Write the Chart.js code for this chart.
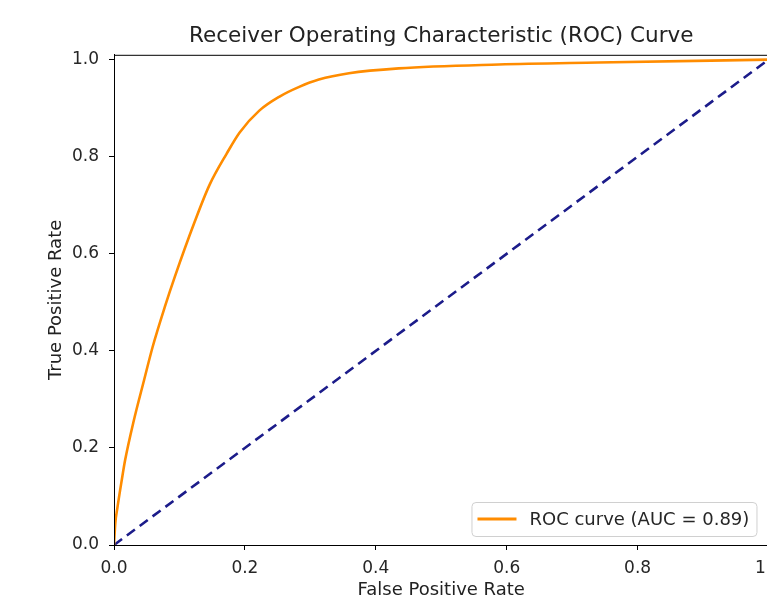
<!DOCTYPE html>
<html>
<head>
<meta charset="utf-8">
<script src="https://cdn.jsdelivr.net/npm/chart.js@4.4.1/dist/chart.umd.min.js"></script>
<style>
  html, body { margin: 0; padding: 0; background: #fff; overflow: hidden; }
  #wrap { width: 790px; height: 598px; }
</style>
</head>
<body>
<div id="wrap"><canvas id="roc" width="790" height="598"></canvas></div>
<script>
// datos
const fpr = [0, 0.002, 0.005, 0.012, 0.017, 0.03, 0.046, 0.059, 0.078, 0.093, 0.123, 0.146, 0.172, 0.192, 0.222, 0.253, 0.283, 0.313, 0.359, 0.435, 0.588, 0.74, 1.0];
const tpr = [0, 0.045, 0.075, 0.135, 0.175, 0.255, 0.34, 0.408, 0.492, 0.553, 0.665, 0.742, 0.806, 0.85, 0.895, 0.924, 0.944, 0.959, 0.972, 0.982, 0.99, 0.994, 1.0];
const diagX = [0, 1];
const diagY = [0, 1];
const xTicks = [0, 0.2, 0.4, 0.6, 0.8, 1.0];
const yTicks = [0, 0.2, 0.4, 0.6, 0.8, 1.0];
const rocLabel = 'ROC curve (AUC = 0.89)';

const FONT = 'DejaVu Sans';
const ctx = document.getElementById('roc');

// marco completo alrededor del area del grafico
const frame = {
  id: 'frame',
  afterDraw(chart) {
    const {ctx, chartArea: a} = chart;
    ctx.save();
    ctx.strokeStyle = '#000';
    ctx.lineWidth = 1;
    ctx.strokeRect(a.left + 0.5, a.top + 0.5, a.right - a.left, a.bottom - a.top);
    ctx.restore();
  }
};

// leyenda dentro del grafico, abajo a la derecha
const innerLegend = {
  id: 'innerLegend',
  afterDraw(chart) {
    const {ctx, chartArea: a} = chart;
    const w = 285, h = 34;
    const x = a.right - 12 - w, y = a.bottom - 9 - h;
    ctx.save();
    ctx.fillStyle = 'rgba(255,255,255,0.8)';
    ctx.strokeStyle = '#d0d0d0';
    ctx.lineWidth = 1;
    ctx.beginPath();
    ctx.roundRect(x + 0.5, y + 0.5, w, h, 4);
    ctx.fill();
    ctx.stroke();
    ctx.strokeStyle = '#ff8c00';
    ctx.lineWidth = 3;
    ctx.beginPath();
    ctx.moveTo(x + 6, y + h / 2);
    ctx.lineTo(x + 45, y + h / 2);
    ctx.stroke();
    ctx.fillStyle = '#262626';
    ctx.font = '18px "' + FONT + '"';
    ctx.textBaseline = 'middle';
    ctx.fillText(rocLabel, x + 58, y + h / 2 + 1);
    ctx.restore();
  }
};

new Chart(ctx, {
  type: 'line',
  data: {
    datasets: [
      {
        label: rocLabel,
        data: fpr.map((v, i) => ({x: v, y: tpr[i]})),
        borderColor: '#ff8c00',
        borderWidth: 2.6,
        pointRadius: 0,
        cubicInterpolationMode: 'monotone',
        fill: false
      },
      {
        label: 'diagonal',
        data: diagX.map((v, i) => ({x: v, y: diagY[i]})),
        borderColor: '#1c1c8a',
        borderWidth: 2.6,
        borderDash: [10, 6],
        pointRadius: 0,
        fill: false
      }
    ]
  },
  options: {
    responsive: false,
    animation: false,
    layout: { padding: { right: 19 } },
    plugins: {
      legend: { display: false },
      tooltip: { enabled: false },
      title: {
        display: true,
        text: 'Receiver Operating Characteristic (ROC) Curve',
        fullSize: false,
        color: '#222',
        font: { family: FONT, size: 21.5, weight: 'normal' },
        padding: { top: 24, bottom: 5 }
      }
    },
    scales: {
      x: {
        type: 'linear',
        min: 0,
        max: 1,
        afterBuildTicks: s => { s.ticks = xTicks.map(v => ({value: v})); },
        afterFit: s => { s.height = 53; },
        grid: { drawOnChartArea: false, color: '#000', tickLength: 5, tickWidth: 1 },
        border: { color: '#000', width: 1 },
        ticks: {
          color: '#262626',
          font: { family: FONT, size: 17 },
          padding: 8,
          maxRotation: 0,
          callback: v => v.toFixed(1)
        },
        title: {
          display: true,
          text: 'False Positive Rate',
          color: '#222',
          font: { family: FONT, size: 18 },
          padding: { top: 0, bottom: -3 }
        }
      },
      y: {
        type: 'linear',
        min: 0,
        max: 1.01,
        afterBuildTicks: s => { s.ticks = yTicks.map(v => ({value: v})); },
        afterFit: s => { s.width = 114; },
        grid: { drawOnChartArea: false, color: '#000', tickLength: 5, tickWidth: 1 },
        border: { color: '#000', width: 1 },
        ticks: {
          color: '#262626',
          font: { family: FONT, size: 17 },
          padding: 10,
          callback: v => v.toFixed(1)
        },
        title: {
          display: true,
          text: 'True Positive Rate',
          color: '#222',
          font: { family: FONT, size: 18 },
          padding: { top: 46, bottom: 0 }
        }
      }
    }
  },
  plugins: [frame, innerLegend]
});
</script>
</body>
</html>
